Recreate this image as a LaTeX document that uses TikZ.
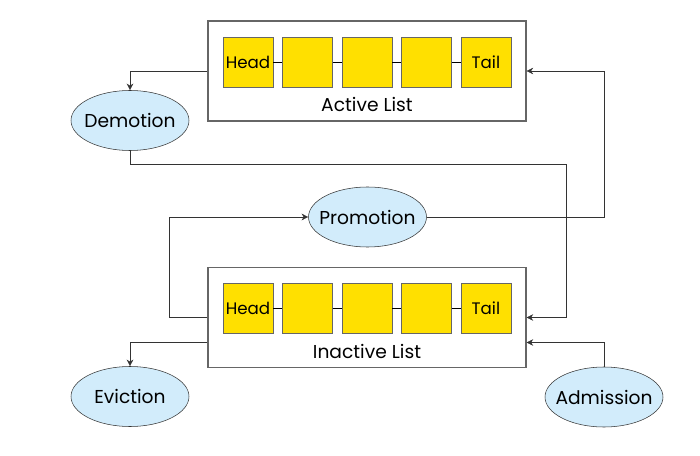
\documentclass[tikz,border=0pt]{standalone}
\usepackage{fontspec}
\setmainfont{Poppins}
\usepackage{tikz}
\usetikzlibrary{positioning,calc}
\usetikzlibrary{arrows.meta,shapes.geometric}
\definecolor{slotyellow}{HTML}{FFE000}
\definecolor{stepblue}{HTML}{D2ECFB}
\definecolor{framegray}{HTML}{666666}
\newcommand{\slotsize}{37.5pt}
\newcommand{\steptext}[1]{\makebox[0pt]{#1}}

\begin{document}
\begin{tikzpicture}[x=0.75pt, y=-0.75pt,
    listbox/.style={draw=framegray, thick, fill=white, minimum width=238.5pt, minimum height=75pt, inner sep=0pt},
    slot/.style={draw=framegray, fill=slotyellow, minimum size=\slotsize, inner sep=0pt, font=\fontsize{12.5}{14}\selectfont},
    stepnode/.style={ellipse, draw=black!80, fill=stepblue, minimum width=88.5pt, minimum height=45pt, inner sep=0pt},
    flow/.style={draw=black!80, -{Stealth[length=5pt,width=5pt]}},
    every node/.style={font=\fontsize{14}{16}\selectfont}]
  \useasboundingbox (0,0) rectangle (700,456);

  \node [listbox] (activebox) at (367,71) {};
  \node [listbox] (inactivebox) at (367,317.5) {};
  \node (activelabel) at (367,104) {Active List};
  \node (inactivelabel) at (367,351) {Inactive List};

  % the two lists
  \foreach \lst/\y in {a/62, i/308} {
    \node [slot] (\lst1) at (248,\y) {Head};
    \node [slot, right=6.7pt of \lst1] (\lst2) {};
    \node [slot, right=6.7pt of \lst2] (\lst3) {};
    \node [slot, right=6.7pt of \lst3] (\lst4) {};
    \node [slot, right=6.7pt of \lst4] (\lst5) {Tail};
    \draw (\lst1) -- (\lst2) -- (\lst3) -- (\lst4) -- (\lst5);
  }

  \node [stepnode] (demotion) at (130,120.5) {\steptext{Demotion}};
  \node [stepnode] (promotion) at (367.5,217) {\steptext{Promotion}};
  \node [stepnode] (eviction) at (130,396.5) {\steptext{Eviction}};
  \node [stepnode] (admission) at (604,397) {\steptext{Admission}};

  \coordinate (demoturn) at (566,164);
  \coordinate (promoleft) at (169,217);
  \coordinate (promoright) at (604,217);

  \draw [flow] (activebox.west) -| (demotion.north);
  \draw [flow] (demotion.south) |- (demoturn) |- (inactivebox.east);
  \draw [flow] (promotion.east) -- (promoright) |- (activebox.east);
  \draw [flow] (inactivebox.west) -| (promoleft) -- (promotion.west);
  \draw [flow] ($(inactivebox.west)+(0,25)$) -| (eviction.north);
  \draw [flow] (admission.north) |- ($(inactivebox.east)+(0,25)$);
\end{tikzpicture}
\end{document}
